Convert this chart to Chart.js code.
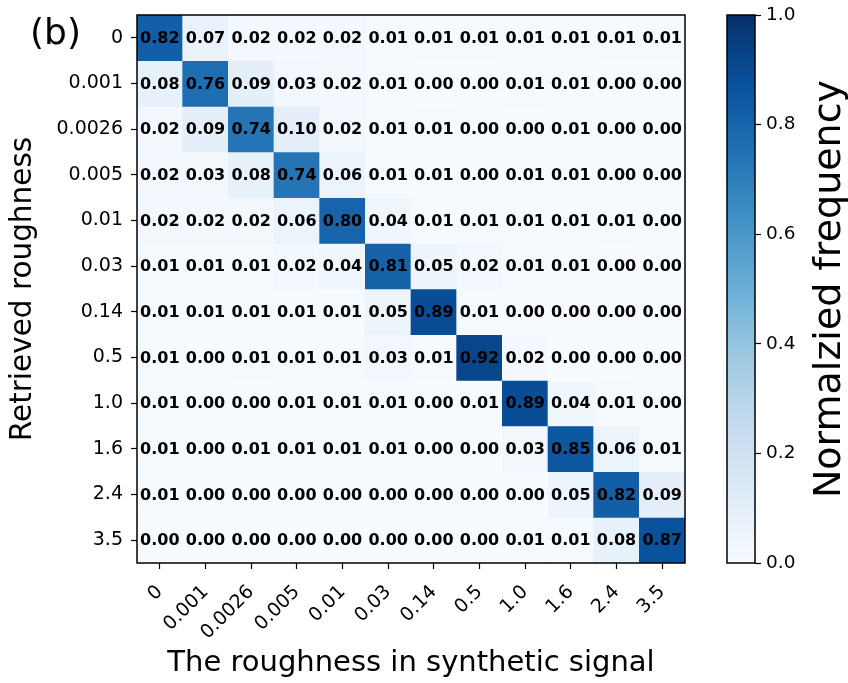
<!DOCTYPE html>
<html><head><meta charset="utf-8">
<script src="https://cdn.jsdelivr.net/npm/chart.js@4.4.1/dist/chart.umd.min.js"></script>
<style>
html,body{margin:0;padding:0;background:#fff;}
#wrap{position:relative;width:848px;height:683px;background:#fff;}
#main{position:absolute;left:0;top:0;}
#cbar{position:absolute;left:700px;top:0;}
</style></head><body>
<div id="wrap"><canvas id="main" width="700" height="683"></canvas><canvas id="cbar" width="148" height="683"></canvas></div>
<script>
// ---- data ----
const synthLabels = ['0','0.001','0.0026','0.005','0.01','0.03','0.14','0.5','1.0','1.6','2.4','3.5'];
const retrievedLabels = ['0','0.001','0.0026','0.005','0.01','0.03','0.14','0.5','1.0','1.6','2.4','3.5'];
const row0  = [0.82,0.07,0.02,0.02,0.02,0.01,0.01,0.01,0.01,0.01,0.01,0.01];
const row1  = [0.08,0.76,0.09,0.03,0.02,0.01,0.00,0.00,0.01,0.01,0.00,0.00];
const row2  = [0.02,0.09,0.74,0.10,0.02,0.01,0.01,0.00,0.00,0.01,0.00,0.00];
const row3  = [0.02,0.03,0.08,0.74,0.06,0.01,0.01,0.00,0.01,0.01,0.00,0.00];
const row4  = [0.02,0.02,0.02,0.06,0.80,0.04,0.01,0.01,0.01,0.01,0.01,0.00];
const row5  = [0.01,0.01,0.01,0.02,0.04,0.81,0.05,0.02,0.01,0.01,0.00,0.00];
const row6  = [0.01,0.01,0.01,0.01,0.01,0.05,0.89,0.01,0.00,0.00,0.00,0.00];
const row7  = [0.01,0.00,0.01,0.01,0.01,0.03,0.01,0.92,0.02,0.00,0.00,0.00];
const row8  = [0.01,0.00,0.00,0.01,0.01,0.01,0.00,0.01,0.89,0.04,0.01,0.00];
const row9  = [0.01,0.00,0.01,0.01,0.01,0.01,0.00,0.00,0.03,0.85,0.06,0.01];
const row10 = [0.01,0.00,0.00,0.00,0.00,0.00,0.00,0.00,0.00,0.05,0.82,0.09];
const row11 = [0.00,0.00,0.00,0.00,0.00,0.00,0.00,0.00,0.01,0.01,0.08,0.87];
const matrix = [row0,row1,row2,row3,row4,row5,row6,row7,row8,row9,row10,row11];
const colorRange = [0, 1];
const colorTicks = [0, 0.2, 0.4, 0.6, 0.8, 1.0];

// ---- Blues colormap ----
const BLUES = [
 [0.9686,0.9843,1.0],[0.8706,0.9216,0.9686],[0.7765,0.8588,0.9373],
 [0.6196,0.7922,0.8824],[0.4196,0.6824,0.8392],[0.2588,0.5725,0.7765],
 [0.1294,0.4431,0.7098],[0.0314,0.3176,0.6118],[0.0314,0.1882,0.4196]
];
function rgb(c){return 'rgb('+Math.round(c[0]*255)+','+Math.round(c[1]*255)+','+Math.round(c[2]*255)+')';}
function blues(v){
  const t = Math.max(0, Math.min(1, (v-colorRange[0])/(colorRange[1]-colorRange[0])));
  const p = t*(BLUES.length-1); const i = Math.min(Math.floor(p), BLUES.length-2); const f = p-i;
  const a = BLUES[i], b = BLUES[i+1];
  return rgb([a[0]+(b[0]-a[0])*f, a[1]+(b[1]-a[1])*f, a[2]+(b[2]-a[2])*f]);
}

Chart.defaults.font.family = '"DejaVu Sans", sans-serif';
Chart.defaults.color = '#000';

const heatPlugin = {
  id: 'heat',
  afterDatasetsDraw(chart){
    const ctx = chart.ctx, a = chart.chartArea;
    ctx.save();
    ctx.font = 'bold 16px "DejaVu Sans"';
    ctx.fillStyle = '#000'; ctx.textAlign = 'center'; ctx.textBaseline = 'middle';
    chart.data.datasets.forEach((ds, r) => {
      chart.getDatasetMeta(r).data.forEach((el, c) => {
        const p = el.getProps(['x','y','base'], true);
        ctx.fillText(matrix[r][c].toFixed(2), p.x, (p.y + p.base)/2 + 1);
      });
    });
    ctx.lineWidth = 1.5; ctx.strokeStyle = '#000';
    ctx.strokeRect(a.left, a.top, a.right - a.left, a.bottom - a.top);
    ctx.font = '36px "DejaVu Sans"'; ctx.textAlign = 'left'; ctx.textBaseline = 'alphabetic';
    ctx.fillText('(b)', 30, 44);
    ctx.restore();
  }
};

new Chart(document.getElementById('main'), {
  type: 'bar',
  data: {
    labels: synthLabels,
    datasets: matrix.map((row, r) => ({
      label: retrievedLabels[r],
      data: row.map(() => [r - 0.5, r + 0.5]),
      backgroundColor: row.map(v => blues(v)),
      borderWidth: 0,
      barPercentage: 1, categoryPercentage: 1, grouped: false
    }))
  },
  options: {
    responsive: false, animation: false, devicePixelRatio: 1,
    layout: {padding: {top: 15, right: 15, left: 0, bottom: 0}},
    plugins: {legend: {display: false}, tooltip: {enabled: false}},
    scales: {
      x: {
        type: 'category', offset: true,
        grid: {display: true, drawOnChartArea: false, tickLength: 6, tickColor: '#000', tickWidth: 1.2, offset: false},
        border: {display: false},
        ticks: {autoSkip: false, maxRotation: 45, minRotation: 45, padding: 12, font: {size: 19}, color: '#000'},
        title: {display: true, text: 'The roughness in synthetic signal', font: {size: 29}, padding: {top: 0, bottom: 2}, color: '#000'},
        afterFit(s){ s.height = 120; s.paddingLeft = 0; s.paddingRight = 0; }
      },
      y: {
        type: 'linear', min: -0.5, max: 11.5, reverse: true,
        afterBuildTicks(s){ s.ticks = retrievedLabels.map((_, i) => ({value: i})); },
        ticks: {callback: (v) => retrievedLabels[v], font: {size: 19}, padding: 8, color: '#000'},
        grid: {drawOnChartArea: false, tickLength: 6, tickColor: '#000', tickWidth: 1.2},
        border: {display: false},
        title: {display: true, text: 'Retrieved roughness', font: {size: 29.5}, padding: {top: 6, bottom: 0}, color: '#000'},
        afterFit(s){ s.width = 137; s.paddingTop = 0; s.paddingBottom = 0; }
      }
    }
  },
  plugins: [heatPlugin]
});

const cbPlugin = {
  id: 'cbframe',
  afterDatasetsDraw(chart){
    const ctx = chart.ctx, a = chart.chartArea;
    ctx.save();
    ctx.lineWidth = 1.5; ctx.strokeStyle = '#000';
    ctx.strokeRect(a.left, a.top, a.right - a.left, a.bottom - a.top);
    ctx.translate(140, (a.top + a.bottom)/2);
    ctx.rotate(-Math.PI/2);
    ctx.font = '38px "DejaVu Sans"'; ctx.fillStyle = '#000';
    ctx.textAlign = 'center'; ctx.textBaseline = 'alphabetic';
    ctx.fillText('Normalzied frequency', 0, 0);
    ctx.restore();
  }
};

new Chart(document.getElementById('cbar'), {
  type: 'bar',
  data: {
    labels: [''],
    datasets: [{
      data: [colorRange],
      backgroundColor(ctx){
        const ch = ctx.chart; const a = ch.chartArea;
        if (!a) return blues(0.5);
        const ys = ch.scales.y;
        const g = ch.ctx.createLinearGradient(0, ys.getPixelForValue(colorRange[0]), 0, ys.getPixelForValue(colorRange[1]));
        BLUES.forEach((c, i) => g.addColorStop(i/(BLUES.length-1), rgb(c)));
        return g;
      },
      borderWidth: 0, barPercentage: 1, categoryPercentage: 1
    }]
  },
  options: {
    responsive: false, animation: false, devicePixelRatio: 1,
    layout: {padding: {left: 27, top: 15, bottom: 120, right: 0}},
    plugins: {legend: {display: false}, tooltip: {enabled: false}},
    scales: {
      x: {display: false},
      y: {
        position: 'right', min: colorRange[0], max: colorRange[1],
        afterBuildTicks(s){ s.ticks = colorTicks.map(v => ({value: v})); },
        ticks: {callback: (v) => v.toFixed(1), font: {size: 18.5}, padding: 5, color: '#000'},
        grid: {drawOnChartArea: false, tickLength: 6, tickColor: '#000', tickWidth: 1.2},
        border: {display: false},
        afterFit(s){ s.width = 93; s.paddingTop = 0; s.paddingBottom = 0; }
      }
    }
  },
  plugins: [cbPlugin]
});
</script>
</body></html>
